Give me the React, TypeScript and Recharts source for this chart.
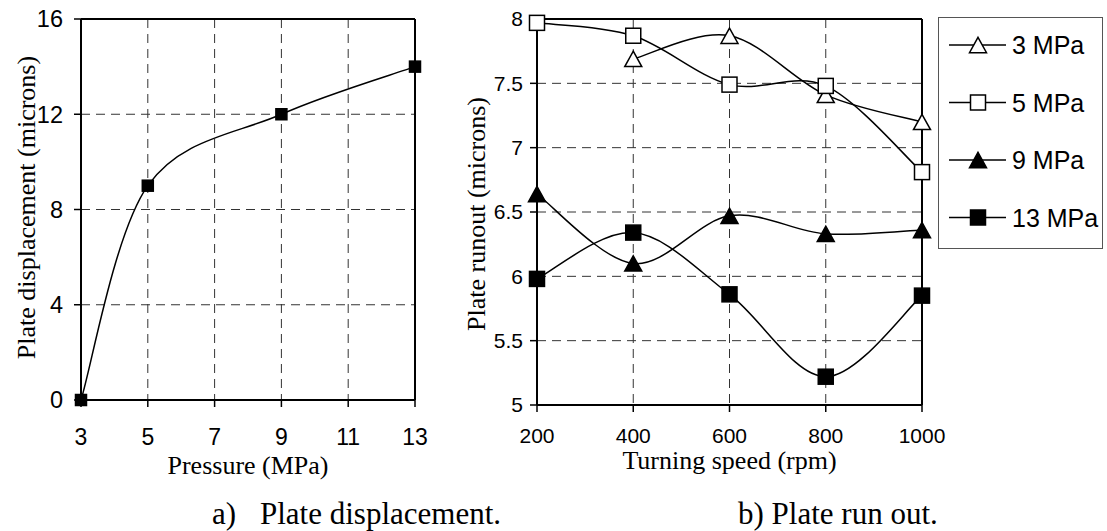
import React from 'react';
import { LineChart, Line, XAxis, YAxis, CartesianGrid, ReferenceLine, Legend, Label } from 'recharts';

// a) plate displacement vs pressure
const pressures = [3, 5, 9, 13];
const displacement = [0, 9, 12, 14];
const pressureTicks = [3, 5, 7, 9, 11, 13];
const displacementTicks = [0, 4, 8, 12, 16];

// b) plate runout vs turning speed
const speeds = [200, 400, 600, 800, 1000];
const runout3 = [null, 7.69, 7.87, 7.41, 7.2];
const runout5 = [7.97, 7.87, 7.49, 7.48, 6.81];
const runout9 = [6.64, 6.1, 6.47, 6.33, 6.36];
const runout13 = [5.98, 6.34, 5.86, 5.22, 5.85];
const speedTicks = [200, 400, 600, 800, 1000];
const runoutTicks = [5, 5.5, 6, 6.5, 7, 7.5, 8];
const seriesNames = ['3 MPa', '5 MPa', '9 MPa', '13 MPa'];

type Shape = 'tri-open' | 'square-open' | 'tri' | 'square';

const runoutSeries: { key: string; name: string; shape: Shape }[] = [
  { key: 'p3', name: seriesNames[0], shape: 'tri-open' },
  { key: 'p5', name: seriesNames[1], shape: 'square-open' },
  { key: 'p9', name: seriesNames[2], shape: 'tri' },
  { key: 'p13', name: seriesNames[3], shape: 'square' },
];

const displacementData = pressures.map((p, i) => ({ pressure: p, disp: displacement[i] }));
const runoutData = speeds.map((s, i) => ({
  speed: s,
  p3: runout3[i],
  p5: runout5[i],
  p9: runout9[i],
  p13: runout13[i],
}));

const SANS = '"Liberation Sans", Arial, sans-serif';
const SERIF = '"Liberation Serif", "Times New Roman", serif';

// Excel-like smoothed line (Catmull-Rom bezier, end points doubled)
const excelSmooth = (context: any) => {
  let pts: number[][] = [];
  return {
    areaStart() {},
    areaEnd() {},
    lineStart() {
      pts = [];
    },
    point(x: number, y: number) {
      pts.push([+x, +y]);
    },
    lineEnd() {
      const n = pts.length;
      if (!n) return;
      context.moveTo(pts[0][0], pts[0][1]);
      for (let i = 0; i < n - 1; i++) {
        const p0 = pts[Math.max(i - 1, 0)];
        const p1 = pts[i];
        const p2 = pts[i + 1];
        const p3 = pts[Math.min(i + 2, n - 1)];
        context.bezierCurveTo(
          p1[0] + (p2[0] - p0[0]) / 6,
          p1[1] + (p2[1] - p0[1]) / 6,
          p2[0] - (p3[0] - p1[0]) / 6,
          p2[1] - (p3[1] - p1[1]) / 6,
          p2[0],
          p2[1]
        );
      }
    },
  };
};

const Marker = ({ shape, x, y, size }: { shape: Shape; x: number; y: number; size: number }) => {
  const open = shape === 'tri-open' || shape === 'square-open';
  const fill = open ? '#fff' : '#000';
  if (shape === 'tri' || shape === 'tri-open') {
    const w = size;
    const h = size * 0.9;
    const pts = `${x},${y - h / 2} ${x + w / 2},${y + h / 2} ${x - w / 2},${y + h / 2}`;
    return <polygon points={pts} fill={fill} stroke="#000" strokeWidth={1.5} strokeLinejoin="miter" />;
  }
  return <rect x={x - size / 2} y={y - size / 2} width={size} height={size} fill={fill} stroke="#000" strokeWidth={1.5} />;
};

const dotRenderer = (shape: Shape, size: number) => (p: any) => {
  if (p.cx == null || p.cy == null || p.value == null) return <g key={`d-${p.index}`} />;
  return (
    <g key={`d-${p.index}`}>
      <Marker shape={shape} x={p.cx} y={p.cy} size={size} />
    </g>
  );
};

const YTitle = ({ viewBox, text, dx, dy }: any) => {
  const cx = viewBox.x + dx;
  const cy = viewBox.y + viewBox.height / 2 + dy;
  return (
    <text
      x={cx}
      y={cy}
      transform={`rotate(-90 ${cx} ${cy})`}
      textAnchor="middle"
      fontFamily={SERIF}
      fontSize={26}
      fill="#000"
    >
      {text}
    </text>
  );
};

const RunoutLegend = () => (
  <div style={{ width: 165, height: 232, border: '1px solid #555', boxSizing: 'border-box', background: '#fff' }}>
    <svg width={163} height={230} style={{ display: 'block' }}>
      {runoutSeries.map((s, i) => {
        const cy = 27 + i * 57.5;
        return (
          <g key={s.key}>
            <line x1={10} x2={67} y1={cy} y2={cy} stroke="#000" strokeWidth={1.5} />
            <Marker shape={s.shape} x={39} y={cy} size={s.shape.startsWith('tri') ? 17 : 15} />
            <text x={73} y={cy + 9} fontFamily={SANS} fontSize={25} fill="#000">
              {s.name}
            </text>
          </g>
        );
      })}
    </svg>
  </div>
);

const axisLine = { stroke: '#000', strokeWidth: 2 };
const tickLine = { stroke: '#000', strokeWidth: 1.5 };

export default function App() {
  return (
    <div style={{ position: 'absolute', left: 0, top: 0, width: 1107, height: 531, background: '#fff' }}>
      <div style={{ position: 'absolute', left: 0, top: 0 }}>
        <LineChart width={440} height={480} data={displacementData} margin={{ top: 19, right: 25, bottom: 6, left: 0 }}>
          <CartesianGrid stroke="#333" strokeWidth={1} strokeDasharray="9 6" />
          <ReferenceLine y={16} stroke="#000" strokeWidth={2} />
          <ReferenceLine x={13} stroke="#000" strokeWidth={2} />
          <XAxis
            dataKey="pressure"
            type="number"
            domain={[3, 13]}
            ticks={pressureTicks}
            interval={0}
            height={74}
            tickSize={7}
            tickMargin={22}
            axisLine={axisLine}
            tickLine={tickLine}
            tick={{ fill: '#000', fontSize: 23, fontFamily: SANS }}
          >
            <Label value="Pressure (MPa)" position="insideBottom" offset={0} fill="#000" fontSize={26} fontFamily={SERIF} />
          </XAxis>
          <YAxis
            type="number"
            domain={[0, 16]}
            ticks={displacementTicks}
            interval={0}
            width={81}
            tickSize={7}
            tickMargin={11}
            axisLine={axisLine}
            tickLine={tickLine}
            tick={{ fill: '#000', fontSize: 23.5, fontFamily: SANS }}
          >
            <Label content={(p: any) => <YTitle {...p} text="Plate displacement (microns)" dx={35} dy={-2} />} />
          </YAxis>
          <Line
            dataKey="disp"
            type={excelSmooth as any}
            stroke="#000"
            strokeWidth={1.5}
            dot={dotRenderer('square', 11)}
            activeDot={false}
            isAnimationActive={false}
          />
        </LineChart>
      </div>

      <div style={{ position: 'absolute', left: 440, top: 0 }}>
        <LineChart width={667} height={480} data={runoutData} margin={{ top: 19, right: 185, bottom: 11, left: 0 }}>
          <CartesianGrid stroke="#333" strokeWidth={1} strokeDasharray="9 6" />
          <ReferenceLine y={8} stroke="#000" strokeWidth={2} />
          <ReferenceLine x={1000} stroke="#000" strokeWidth={2} />
          <XAxis
            dataKey="speed"
            type="number"
            domain={[200, 1000]}
            ticks={speedTicks}
            interval={0}
            height={64}
            tickSize={7}
            tickMargin={16}
            axisLine={axisLine}
            tickLine={tickLine}
            tick={{ fill: '#000', fontSize: 21, fontFamily: SANS }}
          >
            <Label value="Turning speed (rpm)" position="insideBottom" offset={0} fill="#000" fontSize={26} fontFamily={SERIF} />
          </XAxis>
          <YAxis
            type="number"
            domain={[5, 8]}
            ticks={runoutTicks}
            interval={0}
            width={97}
            tickSize={7}
            tickMargin={7}
            axisLine={axisLine}
            tickLine={tickLine}
            tick={{ fill: '#000', fontSize: 21, fontFamily: SANS }}
          >
            <Label content={(p: any) => <YTitle {...p} text="Plate runout (microns)" dx={45} dy={2} />} />
          </YAxis>
          <Legend
            layout="vertical"
            align="center"
            verticalAlign="middle"
            wrapperStyle={{ left: 498, top: 17, width: 165, height: 232 }}
            content={() => <RunoutLegend />}
          />
          {runoutSeries.map((s) => (
            <Line
              key={s.key}
              dataKey={s.key}
              name={s.name}
              type={excelSmooth as any}
              stroke="#000"
              strokeWidth={1.5}
              dot={dotRenderer(s.shape, s.shape.startsWith('tri') ? 17 : 15)}
              activeDot={false}
              isAnimationActive={false}
            />
          ))}
        </LineChart>
      </div>

      <svg width={1107} height={531} style={{ position: 'absolute', left: 0, top: 0, pointerEvents: 'none' }}>
        <text x={212} y={524} fontFamily={SERIF} fontSize={31} fill="#000">a)</text>
        <text x={260} y={524} fontFamily={SERIF} fontSize={31} fill="#000">Plate displacement.</text>
        <text x={738} y={524} fontFamily={SERIF} fontSize={31} fill="#000">b) Plate run out.</text>
      </svg>
    </div>
  );
}
